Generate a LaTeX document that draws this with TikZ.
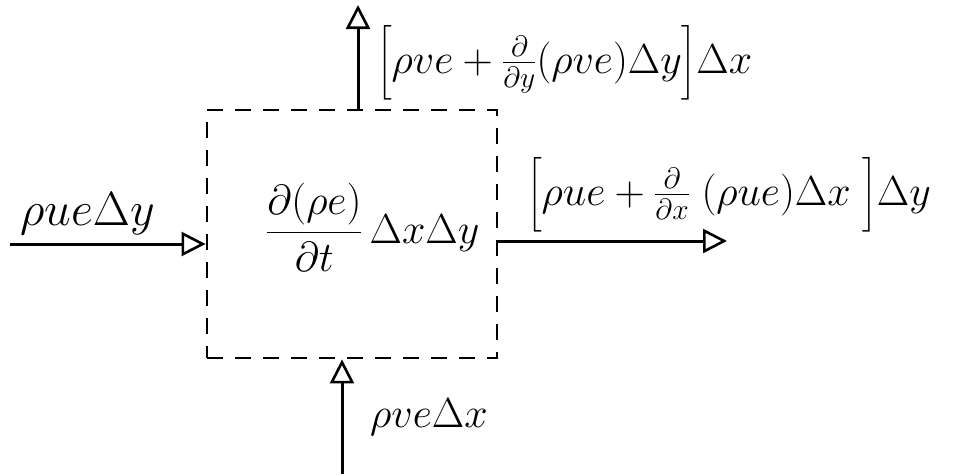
\RequirePackage{fix-cm}
\documentclass[tikz,border=0pt]{standalone}
\usepackage{amsmath}
\usetikzlibrary{arrows.meta}
\begin{document}
\begin{tikzpicture}[x=1pt,y=-1pt,
  flow/.style={line width=3pt, -{Triangle[open,length=24pt,width=24pt,line width=2.6pt]}},
  lbl/.style={inner sep=0pt, font=\fontsize{42}{50}\selectfont},
  cv/.style={draw, line width=2.8pt, dash pattern=on 16pt off 12pt, minimum width=290pt, minimum height=248pt, inner sep=0pt}]
\useasboundingbox (0,0) rectangle (955,474);
\node[cv] (box) at (352,234) {};
\node[lbl, anchor=base west] (store) at (266,243) {$\dfrac{\partial(\rho e)}{\partial t}\,\Delta x\Delta y$};
% left inflow
\coordinate (lin) at (10,244);
\draw[flow] (lin) -- (lin -| box.west);
\node[lbl, anchor=base west, font=\fontsize{48}{56}\selectfont] (lblin) at (20,225) {$\rho u e\Delta y$};
% right outflow
\coordinate (rout) at (727,241);
\draw[flow] (rout -| box.east) -- (rout);
\node[lbl, anchor=base west] (lblout) at (527,205) {$\Big[\rho u e+\tfrac{\partial}{\partial x}\;(\rho u e)\Delta x\;\Big]\Delta y$};
% top outflow
\coordinate (tout) at (358,5);
\draw[flow] (tout |- box.north) -- (tout);
\node[lbl, anchor=base west] (lbltop) at (377,73) {$\Big[\rho v e+\tfrac{\partial}{\partial y}(\rho v e)\Delta y\Big]\Delta x$};
% bottom inflow
\coordinate (bin) at (342,474);
\draw[flow] (bin) -- (bin |- box.south);
\node[lbl, anchor=base west] (lblbot) at (370,427) {$\rho v e\Delta x$};
\end{tikzpicture}
\end{document}
